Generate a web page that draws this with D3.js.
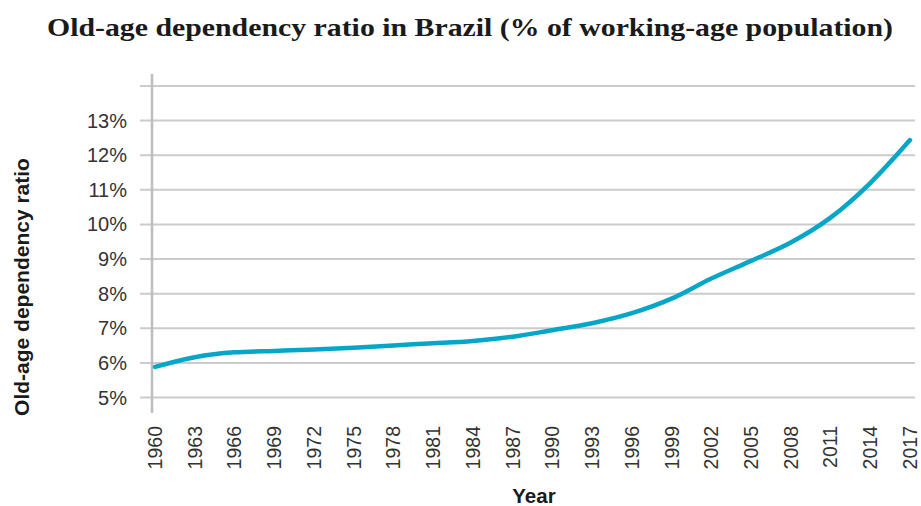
<!DOCTYPE html>
<html>
<head>
<meta charset="utf-8">
<script src="https://cdn.jsdelivr.net/npm/d3@7"></script>
<style>
  html, body { margin: 0; padding: 0; background: #fff; }
  svg { display: block; }
</style>
</head>
<body>
<svg id="chart" width="921" height="506"></svg>
<script>
// Old-age dependency ratio, Brazil (% of working-age population)
const years  = [1960, 1963, 1966, 1969, 1972, 1975, 1978, 1981, 1984, 1987,
                1990, 1993, 1996, 1999, 2002, 2005, 2008, 2011, 2014, 2017];
const ratio  = [5.87, 6.15, 6.29, 6.33, 6.37, 6.42, 6.49, 6.55, 6.62, 6.74,
                6.93, 7.13, 7.42, 7.84, 8.42, 8.93, 9.46, 10.18, 11.18, 12.42];
const yTicks = [5, 6, 7, 8, 9, 10, 11, 12, 13, 14];
const yTickLabels = ["5%", "6%", "7%", "8%", "9%", "10%", "11%", "12%", "13%", ""];

const svg = d3.select("#chart");

const x = d3.scaleLinear().domain([1960, 2017]).range([155, 910]);
const y = d3.scaleLinear().domain([5, 13]).range([397, 120]);

// Title
svg.append("text")
  .attr("x", 47).attr("y", 36)
  .attr("textLength", 846)
  .attr("lengthAdjust", "spacingAndGlyphs")
  .style("font-family", "'Liberation Serif', 'DejaVu Serif', serif")
  .style("font-weight", "bold")
  .style("font-size", "26px")
  .style("fill", "#1a1a1a")
  .text("Old-age dependency ratio in Brazil (% of working-age population)");

// Horizontal gridlines with left tick stubs
const yAxis = d3.axisLeft(y)
  .tickValues(yTicks)
  .tickSize(-(915 - 152))
  .tickPadding(0)
  .tickFormat((d, i) => yTickLabels[i]);

const gy = svg.append("g")
  .attr("transform", "translate(152,0)")
  .call(yAxis);
gy.select(".domain").remove();
gy.selectAll(".tick line")
  .attr("x1", -12)
  .attr("stroke", "#cbcbcb")
  .attr("stroke-width", 2);
gy.selectAll(".tick text")
  .attr("x", -25)
  .attr("dy", "0.35em")
  .style("font-family", "'Liberation Sans', Arial, sans-serif")
  .style("font-size", "20px")
  .style("fill", "#333");

// Vertical axis line
svg.append("line")
  .attr("x1", 152).attr("x2", 152)
  .attr("y1", 74).attr("y2", 413)
  .attr("stroke", "#bdbdbd")
  .attr("stroke-width", 2.5);

// Year labels (rotated)
const xAxis = d3.axisBottom(x)
  .tickValues(years)
  .tickSize(0)
  .tickFormat(d3.format("d"));
const gx = svg.append("g")
  .attr("transform", "translate(0,426)")
  .call(xAxis);
gx.select(".domain").remove();
gx.selectAll(".tick text")
  .attr("transform", "rotate(-90)")
  .attr("x", 0).attr("y", 0)
  .attr("dy", "0.33em")
  .attr("text-anchor", "end")
  .style("font-family", "'Liberation Sans', Arial, sans-serif")
  .style("font-size", "19.5px")
  .style("fill", "#333");

// Series line
const line = d3.line()
  .x((d, i) => x(years[i]))
  .y(d => y(d))
  .curve(d3.curveMonotoneX);

svg.append("path")
  .datum(ratio)
  .attr("d", line)
  .attr("fill", "none")
  .attr("stroke", "#06a6c9")
  .attr("stroke-width", 4.5)
  .attr("stroke-linecap", "round")
  .attr("stroke-linejoin", "round");

// Axis titles
svg.append("text")
  .attr("x", 534).attr("y", 503)
  .attr("text-anchor", "middle")
  .style("font-family", "'Liberation Sans', Arial, sans-serif")
  .style("font-weight", "bold")
  .style("font-size", "20.5px")
  .style("fill", "#1a1a1a")
  .text("Year");

svg.append("text")
  .attr("transform", "translate(29,287) rotate(-90)")
  .attr("text-anchor", "middle")
  .style("font-family", "'Liberation Sans', Arial, sans-serif")
  .style("font-weight", "bold")
  .style("font-size", "21px")
  .style("fill", "#1a1a1a")
  .text("Old-age dependency ratio");
</script>
</body>
</html>
